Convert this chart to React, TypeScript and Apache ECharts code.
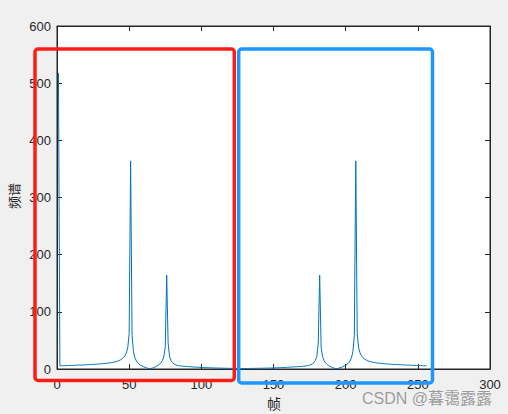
import React, { useEffect, useRef } from "react";
import * as echarts from "echarts";

// magnitude spectrum, frame index 1..256
const spectrum: number[] = [
  518,
  5.5, 5.6, 5.7, 5.8, 5.9, 6.0, 6.1, 6.2, 6.3, 6.4, 6.5, 6.6, 6.7, 6.8, 6.9, 7.0, 7.1, 7.2, 7.4,
  7.5, 7.6, 7.8, 7.9, 8.1, 8.2, 8.4, 8.6, 8.8, 9.0, 9.2, 9.4, 9.7, 9.9, 10.2, 10.5, 10.9, 11.3, 11.8,
  12.3, 13.0, 13.8, 14.8, 16.0, 17.6, 19.8, 23.0, 28.0, 37.0, 62.0,
  364,
  58, 30, 19.5, 14.0, 10.6, 8.3, 6.6, 5.2, 4.0, 3.0, 2.1, 1.2, 0.4, 0.6, 1.5, 2.5, 3.6, 4.9, 6.4,
  8.3, 10.9, 14.8, 21.5, 38,
  164,
  45, 22, 14.8, 11.2, 9.1, 7.7, 6.7, 6.0, 5.6, 5.2, 4.9, 4.7, 4.5, 4.3, 4.2, 4.0, 3.8, 3.6, 3.5,
  3.3, 3.2, 3.0, 2.9, 2.7, 2.6, 2.5, 2.4, 2.3, 2.2, 2.1, 2.0, 1.9, 1.8, 1.75, 1.7, 1.6, 1.55, 1.5,
  1.4, 1.35, 1.3, 1.25, 1.2, 1.15, 1.1, 1.05, 1.0, 0.98, 0.95, 0.92, 0.9, 0.9, 0.9,
  0.9, 0.9, 0.92, 0.95, 0.98, 1.0, 1.05, 1.1, 1.15, 1.2, 1.25, 1.3, 1.35, 1.4, 1.5, 1.55, 1.6, 1.7,
  1.75, 1.8, 1.9, 2.0, 2.1, 2.2, 2.3, 2.4, 2.5, 2.6, 2.7, 2.9, 3.0, 3.2, 3.3, 3.5, 3.6, 3.8, 4.0,
  4.2, 4.3, 4.5, 4.7, 4.9, 5.2, 5.6, 6.0, 6.7, 7.7, 9.1, 11.2, 14.8, 22, 45,
  164,
  38, 21.5, 14.8, 10.9, 8.3, 6.4, 4.9, 3.6, 2.5, 1.5, 0.6, 0.4, 1.2, 2.1, 3.0, 4.0, 5.2, 6.6, 8.3,
  10.6, 14.0, 19.5, 30, 58,
  364,
  62, 37, 28, 23, 19.8, 17.6, 16.0, 14.8, 13.8, 13.0, 12.3, 11.8, 11.3, 10.9, 10.5, 10.2, 9.9, 9.7,
  9.4, 9.2, 9.0, 8.8, 8.6, 8.4, 8.2, 8.1, 7.9, 7.8, 7.6, 7.5, 7.4, 7.2, 7.1, 7.0, 6.9, 6.8, 6.7,
  6.6, 6.5, 6.4, 6.3, 6.2, 6.1, 6.0, 5.9, 5.8, 5.7, 5.6, 5.5,
];

const xTicks = { min: 0, max: 300, interval: 50 };
const yTicks = { min: 0, max: 600, interval: 100 };
const xName = "帧";
const yName = "频谱";
const watermark = "CSDN @暮霭露露";

const AX = "#262626";
const FONT = "'Liberation Sans', Arial, Helvetica, sans-serif";
const CJK = "'Noto Sans CJK SC', sans-serif";

export default function App() {
  const ref = useRef<HTMLDivElement>(null);
  useEffect(() => {
    if (!ref.current) return;
    const chart = echarts.init(ref.current, undefined, { renderer: "svg" });
    const axisCommon = {
      type: "value" as const,
      axisLine: { show: true, onZero: false, lineStyle: { color: AX, width: 1 } },
      axisTick: { show: true, inside: true, length: 5, lineStyle: { color: AX, width: 1 } },
      splitLine: { show: false },
    };
    const labelStyle = { color: AX, fontSize: 13, fontFamily: FONT };
    const data = spectrum.map((v, i) => [i + 1, v]);
    chart.setOption({
      animation: false,
      backgroundColor: "#f0f0f0",
      grid: {
        left: 57,
        right: 18,
        top: 26,
        bottom: 45,
        show: true,
        backgroundColor: "#ffffff",
        borderColor: AX,
        borderWidth: 1,
        containLabel: false,
        outerBoundsMode: "none",
      },
      xAxis: [
        { ...axisCommon, ...xTicks, position: "bottom", axisLabel: { ...labelStyle, margin: 9, lineHeight: 12 } },
        { ...axisCommon, ...xTicks, position: "top", axisLabel: { show: false } },
      ],
      yAxis: [
        { ...axisCommon, ...yTicks, position: "left", axisLabel: { ...labelStyle, margin: 6 } },
        { ...axisCommon, ...yTicks, position: "right", axisLabel: { show: false } },
      ],
      series: [
        {
          type: "line",
          data,
          showSymbol: false,
          symbol: "none",
          lineStyle: { color: "#0072BD", width: 1 },
          xAxisIndex: 0,
          yAxisIndex: 0,
        },
      ],
      graphic: [
        {
          type: "text",
          x: 13,
          y: 196,
          rotation: Math.PI / 2,
          style: { text: yName, fill: AX, fontSize: 13, fontFamily: CJK, align: "center", verticalAlign: "middle" },
        },
        {
          type: "text",
          x: 274,
          y: 403,
          style: { text: xName, fill: AX, fontSize: 14, fontFamily: CJK, align: "center", verticalAlign: "middle" },
        },
        {
          type: "text",
          x: 362,
          y: 398.5,
          z: 50,
          style: {
            text: watermark,
            fill: "rgba(140,140,140,0.85)",
            fontSize: 16,
            lineHeight: 16,
            fontFamily: "'Liberation Sans', 'Noto Sans CJK SC', sans-serif",
            align: "left",
            verticalAlign: "middle",
          },
        },
        {
          type: "rect",
          z: 100,
          shape: { x: 35, y: 49, width: 199.3, height: 331.5, r: 3 },
          style: { fill: "none", stroke: "#fb1d16", lineWidth: 3.5 },
        },
        {
          type: "rect",
          z: 100,
          shape: { x: 238.7, y: 49, width: 193.8, height: 334, r: 3 },
          style: { fill: "none", stroke: "#1e96fa", lineWidth: 3.5 },
        },
      ],
    });
    return () => chart.dispose();
  }, []);
  return (
    <div
      ref={ref}
      style={{ position: "fixed", left: 0, top: 0, width: 508, height: 414 }}
    />
  );
}
